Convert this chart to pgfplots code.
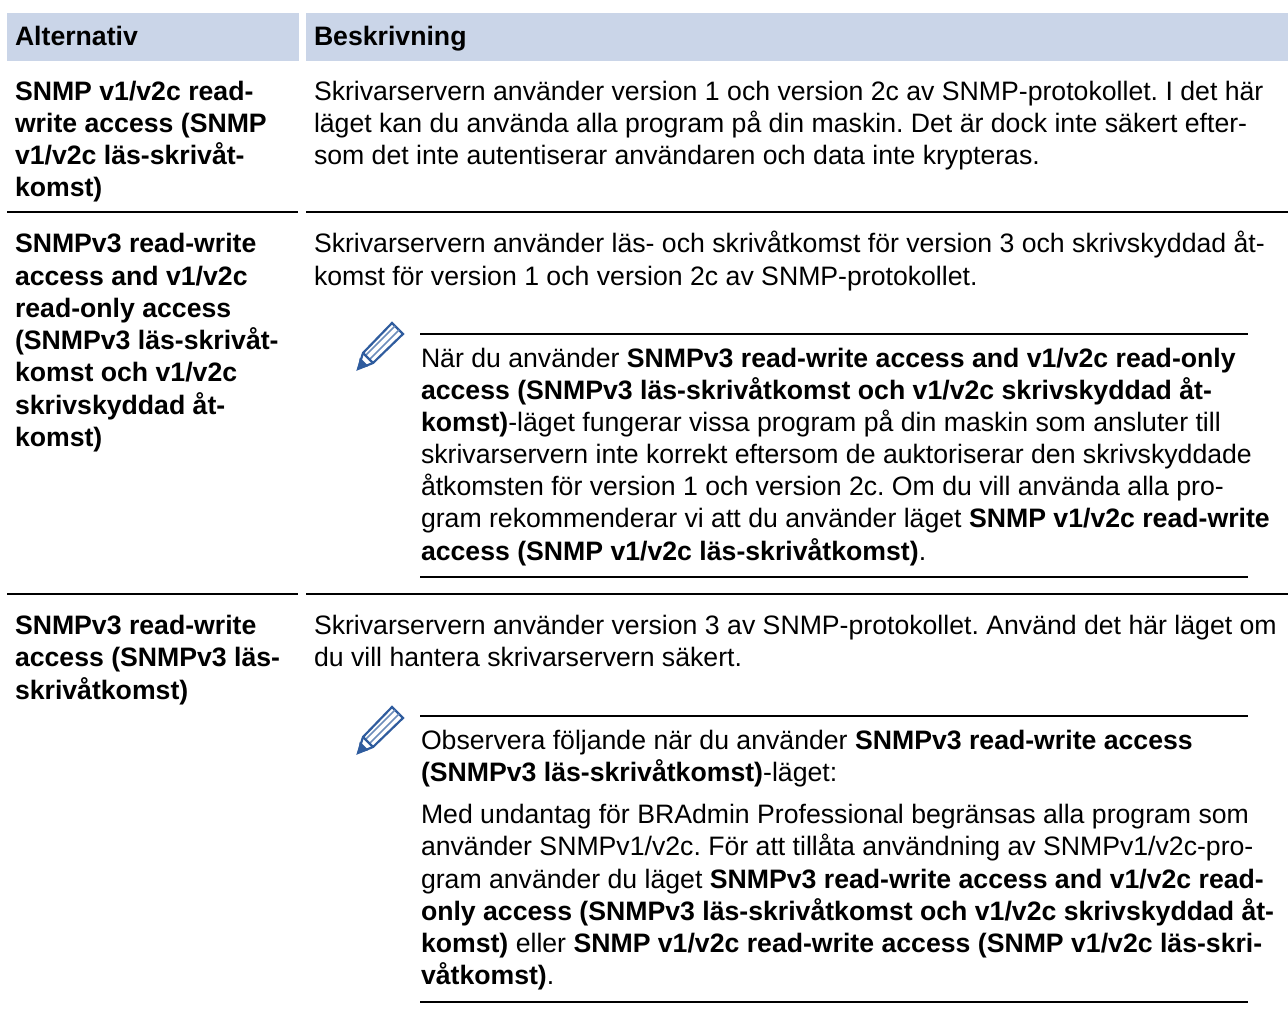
\documentclass[border=0pt]{standalone}
\usepackage{pgfplots}
\pgfplotsset{compat=1.18}
\usepackage{fontspec}
\setmainfont{Liberation Sans}
\frenchspacing
\definecolor{band}{HTML}{CAD5E8}
\definecolor{pen}{HTML}{2F5C9E}
\newcommand{\T}[3]{\node[anchor=base west,inner sep=0pt,outer sep=0pt,font=\fontsize{26.65}{30}\selectfont] at (axis cs:#1,#2) {#3};}
\newcommand{\B}[3]{\T{#1}{#2}{\textbf{#3}}}
\begin{document}
\begin{tikzpicture}
\begin{axis}[scale only axis,width=1288pt,height=1012pt,xmin=0,xmax=1288,ymin=0,ymax=1012,y dir=reverse,axis lines=none,clip=false]
\path[use as bounding box] (axis cs:0,0) rectangle (axis cs:1288,1012);
% header bands
\addplot[fill=band,draw=none] coordinates {(7,13)(299,13)(299,61)(7,61)} -- cycle;
\addplot[fill=band,draw=none] coordinates {(306,13)(1288,13)(1288,61)(306,61)} -- cycle;
% row rules
\addplot[black,line width=1.5pt] coordinates {(7,212)(298,212)};
\addplot[black,line width=1.5pt] coordinates {(306,212)(1288,212)};
\addplot[black,line width=1.5pt] coordinates {(7,594)(298,594)};
\addplot[black,line width=1.5pt] coordinates {(306,594)(1288,594)};
% note rules
\addplot[black,line width=2.2pt] coordinates {(420,334)(1248,334)};
\addplot[black,line width=2.2pt] coordinates {(420,577)(1248,577)};
\addplot[black,line width=2.2pt] coordinates {(420,716)(1248,716)};
\addplot[black,line width=2.2pt] coordinates {(420,1002)(1248,1002)};
% pencils
\addplot[fill=white,draw=pen,line width=2.2pt] coordinates {(358,369)(363,353)(392,323)(403,334)(373,363)} -- cycle;
\addplot[draw=pen!70,line width=1.6pt] coordinates {(366,355)(395,326)};
\addplot[draw=pen!70,line width=1.6pt] coordinates {(370,359)(399,330)};
\addplot[draw=pen,line width=2.2pt] coordinates {(363,353)(373,363)};
\addplot[fill=pen,draw=pen] coordinates {(358,369)(360,358)(368,366)} -- cycle;
\addplot[fill=white,draw=pen,line width=2.2pt] coordinates {(358,753)(363,737)(392,707)(403,718)(373,747)} -- cycle;
\addplot[draw=pen!70,line width=1.6pt] coordinates {(366,739)(395,710)};
\addplot[draw=pen!70,line width=1.6pt] coordinates {(370,743)(399,714)};
\addplot[draw=pen,line width=2.2pt] coordinates {(363,737)(373,747)};
\addplot[fill=pen,draw=pen] coordinates {(358,753)(360,742)(368,750)} -- cycle;
% header
\B{15}{45}{Alternativ}
\B{314}{45}{Beskrivning}
% left col
\B{15}{100}{SNMP v1/v2c read-}
\B{15}{132}{write access (SNMP}
\B{15}{164}{v1/v2c läs-skrivåt-}
\B{15}{196}{komst)}
\B{15}{252}{SNMPv3 read-write}
\B{15}{285}{access and v1/v2c}
\B{15}{317}{read-only access}
\B{15}{349}{(SNMPv3 läs-skrivåt-}
\B{15}{381}{komst och v1/v2c}
\B{15}{414}{skrivskyddad åt-}
\B{15}{446}{komst)}
\B{15}{634}{SNMPv3 read-write}
\B{15}{666}{access (SNMPv3 läs-}
\B{15}{699}{skrivåtkomst)}
% right col
\T{314}{100}{Skrivarservern använder version 1 och version 2c av SNMP-protokollet. I det här}
\T{314}{132}{läget kan du använda alla program på din maskin. Det är dock inte säkert efter-}
\T{314}{164}{som det inte autentiserar användaren och data inte krypteras.}
\T{314}{252}{Skrivarservern använder läs- och skrivåtkomst för version 3 och skrivskyddad åt-}
\T{314}{285}{komst för version 1 och version 2c av SNMP-protokollet.}
\T{421}{367}{När du använder \textbf{SNMPv3 read-write access and v1/v2c read-only}}
\T{421}{399}{\textbf{access (SNMPv3 läs-skrivåtkomst och v1/v2c skrivskyddad åt-}}
\T{421}{431}{\textbf{komst)}-läget fungerar vissa program på din maskin som ansluter till}
\T{421}{463}{skrivarservern inte korrekt eftersom de auktoriserar den skrivskyddade}
\T{421}{495}{åtkomsten för version 1 och version 2c. Om du vill använda alla pro-}
\T{421}{527}{gram rekommenderar vi att du använder läget \textbf{SNMP v1/v2c read-write}}
\T{421}{560}{\textbf{access (SNMP v1/v2c läs-skrivåtkomst)}.}
\T{314}{634}{Skrivarservern använder version 3 av SNMP-protokollet. Använd det här läget om}
\T{314}{666}{du vill hantera skrivarservern säkert.}
\T{421}{749}{Observera följande när du använder \textbf{SNMPv3 read-write access}}
\T{421}{781}{\textbf{(SNMPv3 läs-skrivåtkomst)}-läget:}
\T{421}{823}{Med undantag för BRAdmin Professional begränsas alla program som}
\T{421}{855}{använder SNMPv1/v2c. För att tillåta användning av SNMPv1/v2c-pro-}
\T{421}{888}{gram använder du läget \textbf{SNMPv3 read-write access and v1/v2c read-}}
\T{421}{920}{\textbf{only access (SNMPv3 läs-skrivåtkomst och v1/v2c skrivskyddad åt-}}
\T{421}{952}{\textbf{komst)} eller \textbf{SNMP v1/v2c read-write access (SNMP v1/v2c läs-skri-}}
\T{421}{984}{\textbf{våtkomst)}.}
\end{axis}
\end{tikzpicture}
\end{document}
